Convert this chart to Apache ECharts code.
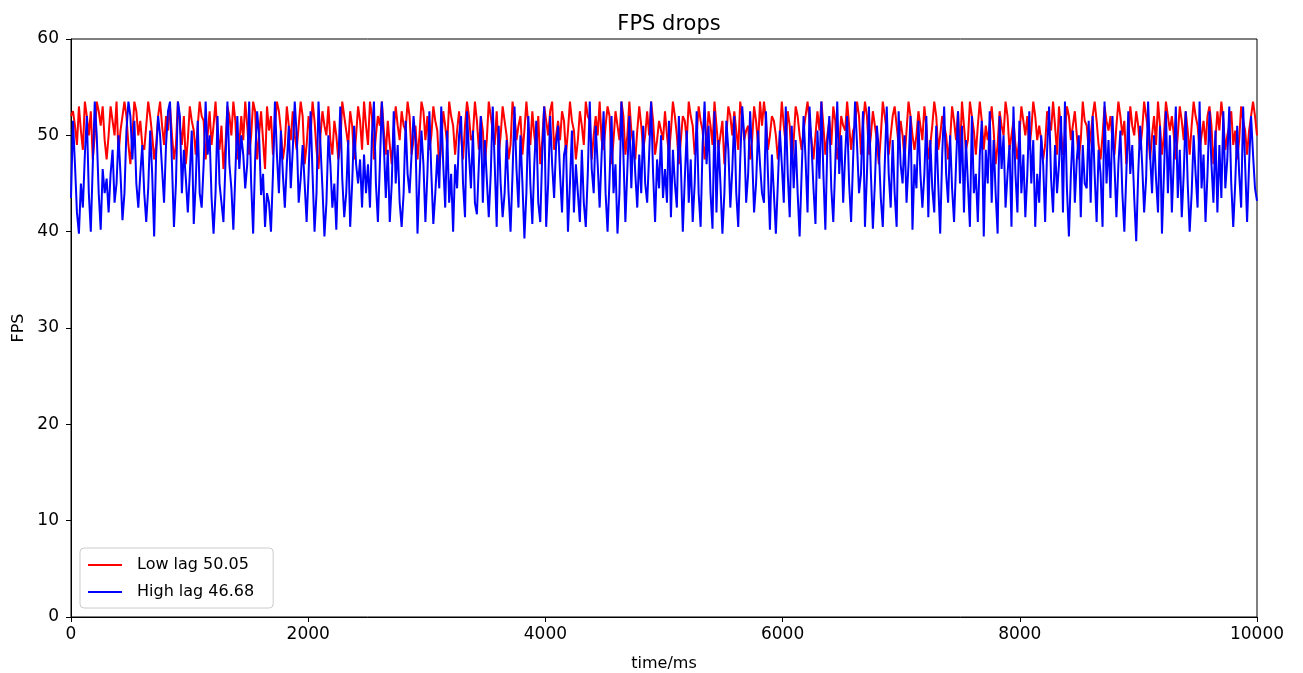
<!DOCTYPE html>
<html><head><meta charset="utf-8">
<script src="https://cdn.jsdelivr.net/npm/echarts@6/dist/echarts.min.js"></script>
<style>html,body{margin:0;padding:0;background:#fff}#c{width:1303px;height:673px}</style>
</head><body><div id="c"></div>
<script>
const title = "FPS drops";
const xName = "time/ms";
const yName = "FPS";
const lowLabel = "Low lag 50.05";
const highLabel = "High lag 46.68";
const xMax = 10000;
const xTickStep = 2000;
const yMax = 60;
const yTickStep = 10;

const lowLag = [
52,52.5,51,49,53,50.5,48.5,53.5,52,50,52.5,47.5,50,53.5,52.5,51,53,49.5,47.5,50,53,51.5,50,53.5,48,50.5,52,53.5,52,49,47,50,53.5,52.5,50,51.5,49,48.5,51,53.5,52,50,47.5,49,52,53.5,51,49,52,50.5,
53,50,47.5,49,53.5,51,49,52,47,49.5,53,51.5,50.5,48,51,53.5,52,51.5,47.5,50,52.5,49,51,53.5,50,48.5,51,46.5,49,53,52,50,53.5,51.5,47.5,49,52,49.5,53.5,51,48,50,53.5,52.5,47.5,50,52.5,49.5,46.5,53,
50.5,52,48,51,53.5,52.5,50.5,47.5,49,53,51,49.5,52.5,50,48.5,51,53.5,52,47,49,52,50,53.5,51.5,48.5,46.5,50,52.5,51,50,53,49.5,48,51.5,50,47.5,49,53.5,52,50.5,49,52.5,51,47.5,50,53,51.5,48.5,53.5,51,
49,53.5,52,47.5,50,52,51,53.5,50.5,48,51.5,49,47,50.5,53,51,49.5,52.5,51,50.5,53.5,52,48,49.5,51,47.5,50,53.5,52.5,49.5,52,48.5,50,53,51.5,50.5,46.5,49,52.5,51,49,53.5,52,51,48,50.5,52.5,50,47.5,51,
53.5,52,49.5,50,53.5,51.5,48.5,52,50.5,47,49.5,53.5,52,50.5,49,52.5,48,50,53,51.5,50,47.5,49,53.5,52,49.5,51,52,48,50.5,53.5,51,49,52.5,50,48.5,52,47,49.5,53,51.5,50,52.5,53.5,48.5,50,51.5,49.5,52.5,51.5,
48,50.5,53.5,51.5,50.5,47.5,49.5,52.5,51,49,53.5,52,51.5,47.5,50,52,50,53.5,49.5,48.5,51,53,52,47,49.5,52.5,51,49.5,53.5,52,48,50,53.5,50.5,49,47.5,50.5,53,51,48.5,50,52.5,50,53.5,51.5,48,49.5,51.5,50.5,49.5,
52.5,50,48,50.5,53.5,52,50,47,49.5,52,51.5,49.5,53.5,52,51,48,50,53,51.5,50.5,47.5,49.5,52.5,51,49,53.5,51,48.5,50,51.5,47,50,53,52,50,52.5,50.5,48.5,53.5,52,49.5,50.5,51,47.5,49.5,53,51.5,49,53.5,51,
53.5,51.5,48.5,50,52,51.5,50,47.5,50,53.5,51,49,52.5,51,47,49.5,53,52,50,48.5,50.5,52,53.5,51.5,49.5,47.5,50,52.5,50.5,53.5,51,48,50,51.5,49,53,51.5,47.5,49,52,51,50.5,53.5,51,48.5,50.5,51,53.5,52,48,
51,53.5,52,48,50,52.5,51,49.5,47,50,53.5,52,50.5,48,50,52,53,51,49,51.5,50,47.5,50.5,53.5,52,50,48.5,50,52.5,51,49.5,53,51,47.5,49,51,53.5,52,48.5,50,52,51,50,47.5,49.5,53,51.5,49.5,52.5,48,
53.5,51,48.5,49.5,53.5,52,50.5,48,51,53.5,51.5,48.5,51,49.5,51,53,50.5,47,49,52.5,51,50,53.5,52,48.5,50,51.5,49,47.5,50,53,51.5,50,52,48.5,50.5,53.5,52,49.5,51,49.5,47.5,49,52.5,51.5,50.5,53.5,51,48,53,
50.5,48,50,53,52,49.5,51,52.5,50,47.5,49.5,53.5,51.5,51,48.5,50,52,53.5,51.5,49,47.5,50,53,51.5,50.5,52,49.5,48,51,53.5,52,50,51.5,47,49.5,53,51,50,52.5,51,48.5,50.5,53.5,52,50.5,47.5,50,52,49,53.5,
51,48,50,53.5,52,50.5,52,50,47.5,50,53,51.5,49.5,52.5,50.5,48,51,53.5,52,51,48.5,50,51.5,49,52,53,51,47,49.5,52.5,50.5,53.5,51.5,48.5,50,51,52.5,49,50.5,47.5,49.5,53,51.5,50.5,48,50.5,52,53.5,52,50
];

const highLag = [
43.5,51.5,47,42,39.8,45,42.5,48,52,44,40,47,53.5,50,44,40.2,46.5,44,45.5,42,46,48.5,43,45,50,46,41.2,44,50.5,53.5,52,47.5,51.5,45,42.5,46,49,44,41,44.5,50.5,46,39.5,48,52,50,46.5,43,49,52.5,
53.5,47,40.5,45,53.5,52,44,48.5,45.5,42,46,50.5,40.8,45,51.5,44,42.5,47,53.5,48,50,43.5,39.8,44,52,45,43,41,47,53.5,47,44.5,40.2,46,52,46.5,50,48,44.5,47,53.5,45,39.8,47.5,52.5,50,43.8,46,40.5,44,
43,40,46,53.5,48,44,50.5,46,42.5,47,51,44.5,48.5,53.5,50,43,45.5,49,45,41,46,52.5,46,40,44,53.5,49,44.5,39.5,43,50,47,42.5,45,40.2,47,53,45.5,41.5,44,49.5,40.5,45,51,47,45,47.5,42.5,48,44,
47,42.5,50,53.5,45,41,47,53.5,49,43.5,48.5,41,45,52.5,45,49,43,40.5,44,51.5,46,44,48,52,49.5,39.8,45.5,50.5,47,41,46,52.5,46,40.8,44,48,44.5,53,47,42.5,50.5,43,46,40,47,44.5,50,52,45,41.5,
52.5,48,44.5,50.5,43,41.8,47,52,43,49.5,45.5,41.5,46,53,47,40.5,51,45,41.5,44,49.5,44,40,46,53,46.5,42.5,50,45,39.3,44,52,45,40.8,47,51.5,43,41,48,53,40.5,45,52,47,43.5,49,51,46,42,48,
49,40,45,50.5,42,47,44,41,48.5,43,40.5,46,53.5,46.5,44,51,47,42.5,48,52.5,44,40,45.5,52,44,47,39.8,44,53.5,48,41,46.5,52,44.5,50.5,46,42.5,48,44,51,45,43,48,53.5,46,41,47.5,44.5,50,43.5,
46.5,43,51.5,41.5,48.5,45,42.5,52,47,40,45.5,50.5,43,47.5,41,45,52.5,44,40.5,49,53.5,47,51,44,40.3,52.5,42,49.5,45,39.8,44,51.5,48.5,42.5,46.5,52,44,40.5,47.5,53,50,43,46,52.5,48,42,45,50.5,47,44,
43,52.5,46,40.2,48,44,39.8,45,50.5,47,43,53,46,41.5,51,44.5,49.5,44,39.5,46,52,47.5,42,53,49,44.5,40.8,50.5,45.5,53.5,46,40.2,49,52,44.5,41,47,53.5,46,50,43,48,52,45,41,47.5,53.5,49,44,46,
52.5,40.5,46,53,46,40.3,45,51,48.5,43.5,40.5,47,53,46,42.5,49.5,44,40.5,52.5,47,45,50,43,47,52,40.2,47,44.5,51.5,46,42.5,46,52,41.5,49.5,44.5,42,51,45,39.8,48,53,46,43,50,44.5,41,47,52.5,45,
51,42,49.5,45,40.5,52,44,46,41,48,51.5,39.5,48.5,45,52.5,43,49.5,44,39.8,52,46.5,50,42.5,46,49,40.5,53,46,42,51.5,44,48,41.5,46,52.5,45,49.5,40.5,46,43,50,47,41,48.5,53,45.5,42,49,44,47,
52,42,53.5,44.5,39.5,46,50.5,43,47.5,50,41.5,49,45,44.5,51.5,43,52,46,41,48.5,46,40.5,53.5,45,49.5,43.5,52,47,41.5,47,50.5,44,40,46,52.5,46,49,43.5,39,46,51,47,42,45.5,53.5,48,44,50,45.5,42,
51,39.8,46,52.5,44,50,42,47.5,53,43.5,48.5,41.5,46,52.5,45,40,44,50,46,42.5,53.5,44.5,48,41,46,52.5,47,43,50.5,42,49,43.5,52.5,44.5,47.5,53,45,40.5,45,51,46,42.5,53,47,41,47,52,48,44.5,43.2
];

function toXY(arr){
  const step = xMax/(arr.length-1);
  return arr.map((v,i)=>[i*step, v]);
}

const font = "DejaVu Sans";
const chart = echarts.init(document.getElementById('c'), null, {renderer:'canvas'});
chart.setOption({
  animation:false,
  backgroundColor:'#fff',
  textStyle:{fontFamily:font},
  title:{text:title, left:664, top:9, textAlign:'center',
    textStyle:{fontFamily:font, fontSize:21, fontWeight:'normal', color:'#000'}},
  grid:{left:71, right:46, top:39, bottom:56, outerBoundsMode:'none', containLabel:false,
    show:true, borderColor:'#000', borderWidth:1, backgroundColor:'transparent'},
  legend:{
    orient:'vertical', left:80, top:548,
    data:[lowLabel, highLabel],
    icon:'rect', itemWidth:34, itemHeight:2, itemGap:9,
    padding:[8,19,7,8],
    borderColor:'#cccccc', borderWidth:1, borderRadius:4, backgroundColor:'rgba(255,255,255,0.8)',
    textStyle:{fontFamily:font, fontSize:16, lineHeight:18, color:'#000', padding:[0,0,0,10]}
  },
  xAxis:{
    type:'value', min:0, max:xMax, interval:xTickStep,
    name:xName, nameLocation:'middle', nameGap:39,
    nameTextStyle:{fontFamily:font, fontSize:16, color:'#000'},
    axisLine:{show:true, lineStyle:{color:'#000', width:1}},
    axisTick:{show:true, inside:false, length:5, lineStyle:{color:'#000'}},
    axisLabel:{fontFamily:font, fontSize:17, color:'#000', margin:9, formatter:(v)=>String(v)},
    splitLine:{show:false}
  },
  yAxis:{
    type:'value', min:0, max:yMax, interval:yTickStep,
    name:yName, nameLocation:'middle', nameGap:39,
    nameTextStyle:{fontFamily:font, fontSize:16, color:'#000'},
    axisLine:{show:true, lineStyle:{color:'#000', width:1}},
    axisTick:{show:true, inside:false, length:5, lineStyle:{color:'#000'}},
    axisLabel:{fontFamily:font, fontSize:17, color:'#000', margin:12, formatter:(v)=>String(v)},
    splitLine:{show:false}
  },
  series:[
    {name:lowLabel, type:'line', data:toXY(lowLag), showSymbol:false, symbol:'none',
      lineStyle:{color:'#ff0000', width:2}, itemStyle:{color:'#ff0000'}},
    {name:highLabel, type:'line', data:toXY(highLag), showSymbol:false, symbol:'none',
      lineStyle:{color:'#0000ff', width:2}, itemStyle:{color:'#0000ff'}}
  ]
});
</script></body></html>
